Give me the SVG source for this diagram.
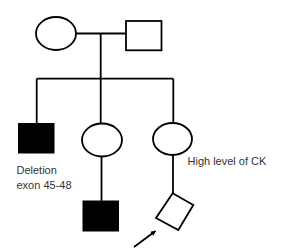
<svg xmlns="http://www.w3.org/2000/svg" width="299" height="249" viewBox="0 0 299 249">
<defs>
<style>
.ln{stroke:#000;stroke-width:1.8;fill:none}
.open{fill:#fff;stroke:#000;stroke-width:1.8}
.aff{fill:#000;stroke:#000;stroke-width:1}
.lbl{font-family:"Liberation Sans",Arial,sans-serif;font-size:11px;fill:#333}
</style>
<marker id="ah" viewBox="0 0 10 10" refX="9" refY="5" markerWidth="5" markerHeight="5" orient="auto" markerUnits="userSpaceOnUse">
<path d="M0,0 L10,5 L0,10 z" fill="#000"/>
</marker>
</defs>
<rect width="299" height="249" fill="#fff"/>
<g id="connectors">
<path class="ln" d="M76,33.5 H126"/>
<path class="ln" d="M100.7,33.5 V124"/>
<path class="ln" d="M36.7,78.7 H173.3"/>
<path class="ln" d="M36.7,78.7 V123"/>
<path class="ln" d="M173.3,78.7 V123"/>
<path class="ln" d="M101.5,156.5 V201"/>
<path class="ln" d="M173,155 V193.3"/>
<path class="ln" d="M134,247 L155.5,231" marker-end="url(#ah)" stroke-width="1.5"/>
</g>
<g id="mother"><ellipse class="open" cx="56" cy="33.5" rx="20" ry="16.5"/></g>
<g id="father"><rect class="open" x="126" y="21" width="35.5" height="29.3"/></g>
<g id="son1"><rect class="aff" x="18.5" y="123.5" width="35.5" height="29.5"/></g>
<g id="label-son1">
<text class="lbl" x="16.5" y="174">Deletion</text>
<text class="lbl" x="16.5" y="189">exon 45-48</text>
</g>
<g id="daughter1"><ellipse class="open" cx="102" cy="140" rx="20" ry="16.5"/></g>
<g id="daughter2"><ellipse class="open" cx="172.5" cy="139" rx="19.5" ry="16"/></g>
<g id="label-daughter2"><text class="lbl" x="187.5" y="165">High level of CK</text></g>
<g id="grandson1"><rect class="aff" x="83" y="201" width="35.5" height="30"/></g>
<g id="proband"><polygon class="open" points="172.7,193.3 193.3,205 178.3,230 156,218"/></g>
</svg>
